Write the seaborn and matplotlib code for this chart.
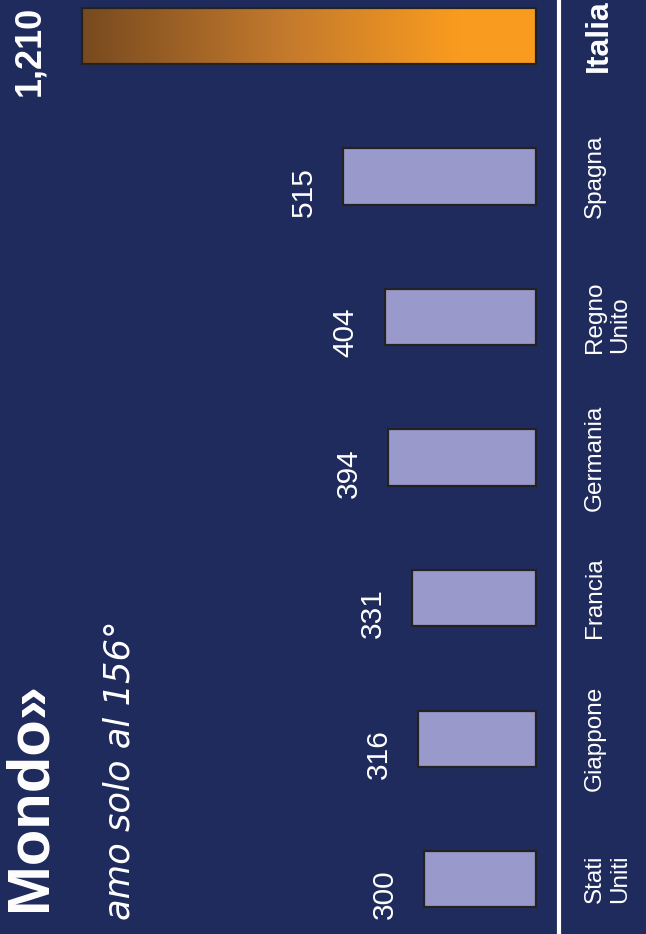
import numpy as np
import matplotlib
matplotlib.use("Agg")
import matplotlib.pyplot as plt
from matplotlib.colors import LinearSegmentedColormap
import seaborn as sns

# style
sns.set_style("white")
plt.rcParams["font.family"] = ["Liberation Sans", "DejaVu Sans"]

# data (top to bottom as shown)
countries = ["Italia", "Spagna", "Regno Unito", "Germania", "Francia", "Giappone", "Stati Uniti"]
tick_labels = ["Italia", "Spagna", "Regno\nUnito", "Germania", "Francia", "Giappone", "Stati\nUniti"]
values = [1210, 515, 404, 394, 331, 316, 300]

title = "Mondo»"
subtitle = "amo solo al 156°"

BG = "#1f2b5c"
BAR = "#9999cc"
EDGE = "#222222"

fig = plt.figure(figsize=(6.46, 9.34), dpi=100)
fig.patch.set_facecolor(BG)
ax = fig.add_axes([0, 0, 559 / 646, 1])
ax.set_facecolor(BG)

sns.barplot(
    x=values,
    y=countries,
    orient="h",
    width=0.4,
    color=BAR,
    saturation=1,
    edgecolor=EDGE,
    linewidth=1.6,
    ax=ax,
)

# gradient for Italia
bar = ax.patches[0]
x0, y0 = bar.get_x(), bar.get_y()
w, h = bar.get_width(), bar.get_height()
cmap = LinearSegmentedColormap.from_list(
    "it", [(0, "#f99b1e"), (0.17, "#f99b1e"), (0.55, "#c47a2d"), (1, "#784a1f")]
)
grad = np.linspace(0, 1, 256).reshape(1, -1)
im = ax.imshow(grad, cmap=cmap, aspect="auto", extent=(x0, x0 + w, y0 + h, y0),
               zorder=bar.get_zorder() - 0.1)
im.set_clip_path(bar)
bar.set_facecolor("none")

# value labels
for i, v in enumerate(values):
    bold = i == 0
    ax.annotate(
        f"{v:,}",
        xy=(v, i),
        xytext=(-25 if bold else -18, -11),
        textcoords="offset points",
        rotation=90,
        ha="right",
        va="center",
        color="white",
        fontsize=26 if bold else 21.5,
        fontweight="bold" if bold else "normal",
    )

ax.set_xlim(1429, -61)
ax.set_ylim(6.39, -0.256)
ax.set_xticks([])
ax.set_xlabel("")
ax.set_ylabel("")

ax.yaxis.tick_right()
ax.set_yticks(range(len(countries)))
ax.set_yticklabels(tick_labels, rotation=90, ha="left", va="center",
                   color="white", fontsize=17.5, linespacing=1.2)
ax.tick_params(axis="y", length=0, pad=18)
lab = ax.get_yticklabels()[0]
lab.set_fontweight("bold")
lab.set_fontsize(23)

for s in ["left", "top", "bottom"]:
    ax.spines[s].set_visible(False)
ax.spines["right"].set_color("white")
ax.spines["right"].set_linewidth(3)

# title texts
fig.text(30 / 646, 1 - 682 / 934, title, rotation=90, ha="center", va="top",
         color="white", fontsize=43, fontweight="bold")
fig.text(120 / 646, 1 - 620 / 934, subtitle, rotation=90, ha="center", va="top",
         color="white", fontsize=25.5, fontstyle="italic", family="DejaVu Sans")

fig.savefig("out.png", dpi=100, facecolor=BG)
